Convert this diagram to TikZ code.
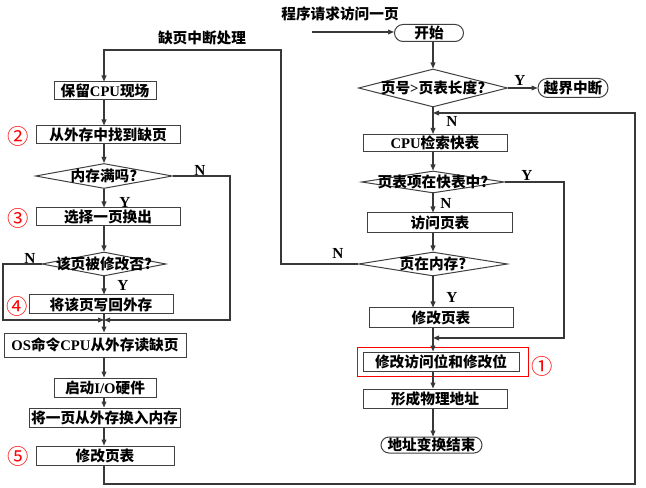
\documentclass[tikz,border=0pt]{standalone}
\usepackage{fontspec}
\setmainfont{Noto Sans CJK SC}
\newfontfamily\lat{Liberation Serif}
\usetikzlibrary{arrows.meta,shapes.geometric}

\begin{document}
\begin{tikzpicture}[x=0.75pt,y=-0.75pt,
  font=\fontsize{11pt}{13pt}\selectfont\bfseries,
  line/.style={draw=black!78, line width=0.8pt},
  arr/.style={line, -{Triangle[length=4.5pt,width=3.6pt]}},
  procbox/.style n args={2}{draw=black!75, line width=0.75pt, rectangle,
    inner sep=0pt, minimum width=#1*0.75pt, minimum height=#2*0.75pt},
  termbox/.style n args={2}{procbox={#1}{#2}, rounded corners=#2*0.375pt},
  decide/.style n args={2}{draw=black!75, line width=0.75pt, diamond,
    inner sep=0pt, minimum width=#1*0.75pt, minimum height=#2*0.75pt},
  yn/.style={font=\fontsize{11.5pt}{13pt}\selectfont\lat\bfseries, inner sep=0pt},
  stepnum/.style={text=red, font=\fontsize{16pt}{17pt}\selectfont, inner sep=0pt}
]
\useasboundingbox[fill=white] (0,0) rectangle (646,488);

% column guides
\coordinate (L) at (104,0);
\coordinate (R) at (433,0);

% ---------- main address-translation column ----------
\node (title) at (340,14) {程序请求访问一页};
\coordinate (src) at (312,32);
\node (start) [termbox={69}{17}] at (429,33) {开始};
\node (d1) [decide={149}{38}] at (433,88) {\makebox[0pt]{页号{\lat >}页表长度?}};
\node (oob) [termbox={70}{19}] at (573,88) {越界中断};
\node (r1) [procbox={144}{17}] at (435,143) {{\lat CPU}检索快表};
\node (d2) [decide={143}{22}] at (433,182) {\makebox[0pt]{页表项在快表中?}};
\node (r2) [procbox={145}{20}] at (440,223) {访问页表};
\node (d3) [decide={149}{24}] at (433,264) {\makebox[0pt]{页在内存?}};
\node (r3) [procbox={144}{19}] at (441,317.5) {修改页表};
\node (r4) [procbox={156}{19}] at (441,361.5) {修改访问位和修改位};
\node (hl) [draw=red, line width=0.6pt, inner sep=0pt,
  minimum width=171*0.75pt, minimum height=29*0.75pt] at (442.5,361.5) {};
\node (r5) [procbox={144}{19}] at (435,398.5) {形成物理地址};
\node (fin) [termbox={101}{16}] at (431.5,445) {地址变换结束};

% ---------- page-fault handling column ----------
\node (pft) at (202,38) {缺页中断处理};
\node (l1) [procbox={102}{18}] at (105,91) {保留{\lat CPU}现场};
\node (l2) [procbox={144}{18}] at (108,135) {从外存中找到缺页};
\node (ld1) [decide={137}{25}] at (104,176) {\makebox[0pt]{内存满吗?}};
\node (l3) [procbox={144}{18}] at (108,217) {选择一页换出};
\node (ld2) [decide={124}{24}] at (104,264) {\makebox[0pt]{该页被修改否?}};
\node (l4) [procbox={144}{19}] at (101,304.5) {将该页写回外存};
\node (l5) [procbox={182}{24}] at (95,345) {{\lat OS}命令{\lat CPU}从外存读缺页};
\node (l6) [procbox={102}{19}] at (105,387.5) {启动{\lat I/O}硬件};
\node (l7) [procbox={151}{19}] at (104.5,417.5) {将一页从外存换入内存};
\node (l8) [procbox={138}{19}] at (105,455.5) {修改页表};

% step numbers
\node (c1) [stepnum] at (542,366) {①};
\node (c2) [stepnum] at (18,136) {②};
\node (c3) [stepnum] at (18,218) {③};
\node (c4) [stepnum] at (17,306) {④};
\node (c5) [stepnum] at (18,456) {⑤};

% routing points
\coordinate (j0) at (433,113);
\coordinate (j1) at (433,338);
\coordinate (xy) at (564,0);
\coordinate (xo) at (635,484);
\coordinate (pf) at (281,50);
\coordinate (mg) at (104,320);
\coordinate (xn) at (230,0);
\coordinate (xl) at (3,0);

% ---------- connectors: main column ----------
\draw[arr] (src) -- (src -| start.west);
\draw[arr] (start.south -| R) -- (d1.north);
\draw[arr] (d1.east) -- (d1.east -| oob.west);
\draw[arr] (d1.south) -- (r1.north -| R);
\draw[arr] (r1.south -| R) -- (d2.north);
\draw[arr] (d2.south) -- (r2.north -| R);
\draw[arr] (r2.south -| R) -- (d3.north);
\draw[arr] (d3.south) -- (r3.north -| R);
\draw[arr] (r3.south -| R) -- (r4.north -| R);
\draw[arr] (r4.south -| R) -- (r5.north -| R);
\draw[arr] (r5.south -| R) -- (fin.north -| R);
\draw[arr] (d2.east) -- (d2.east -| xy) |- (j1);
\draw[arr] (d3.west) -| (pf) -| (l1.north -| L);
\draw[arr] (l8.south -| L) |- (xo) |- (j0);

% ---------- connectors: page-fault column ----------
\draw[arr] (l1.south -| L) -- (l2.north -| L);
\draw[arr] (l2.south -| L) -- (ld1.north);
\draw[arr] (ld1.south) -- (l3.north -| L);
\draw[arr] (l3.south -| L) -- (ld2.north);
\draw[arr] (ld2.south) -- (l4.north -| L);
\draw[line] (l4.south -| L) -- (mg);
\draw[arr] (ld1.east) -- (ld1.east -| xn) |- (mg);
\draw[arr] (ld2.west) -- (ld2.west -| xl) |- (mg);
\draw[arr] (mg) -- (l5.north -| L);
\draw[arr] (l5.south -| L) -- (l6.north -| L);
\draw[arr] (l6.south -| L) -- (l7.north -| L);
\draw[arr] (l7.south -| L) -- (l8.north -| L);

% ---------- branch labels ----------
\node (y1) [yn] at (520,80) {Y};
\node (n1) [yn] at (452,121) {N};
\node (y2) [yn] at (527,175) {Y};
\node (n2) [yn] at (446,203) {N};
\node (n3) [yn] at (338,253) {N};
\node (y3) [yn] at (452,297) {Y};
\node (n4) [yn] at (200,170) {N};
\node (y4) [yn] at (125,202) {Y};
\node (n5) [yn] at (30,258) {N};
\node (y5) [yn] at (123,285) {Y};
\end{tikzpicture}
\end{document}
